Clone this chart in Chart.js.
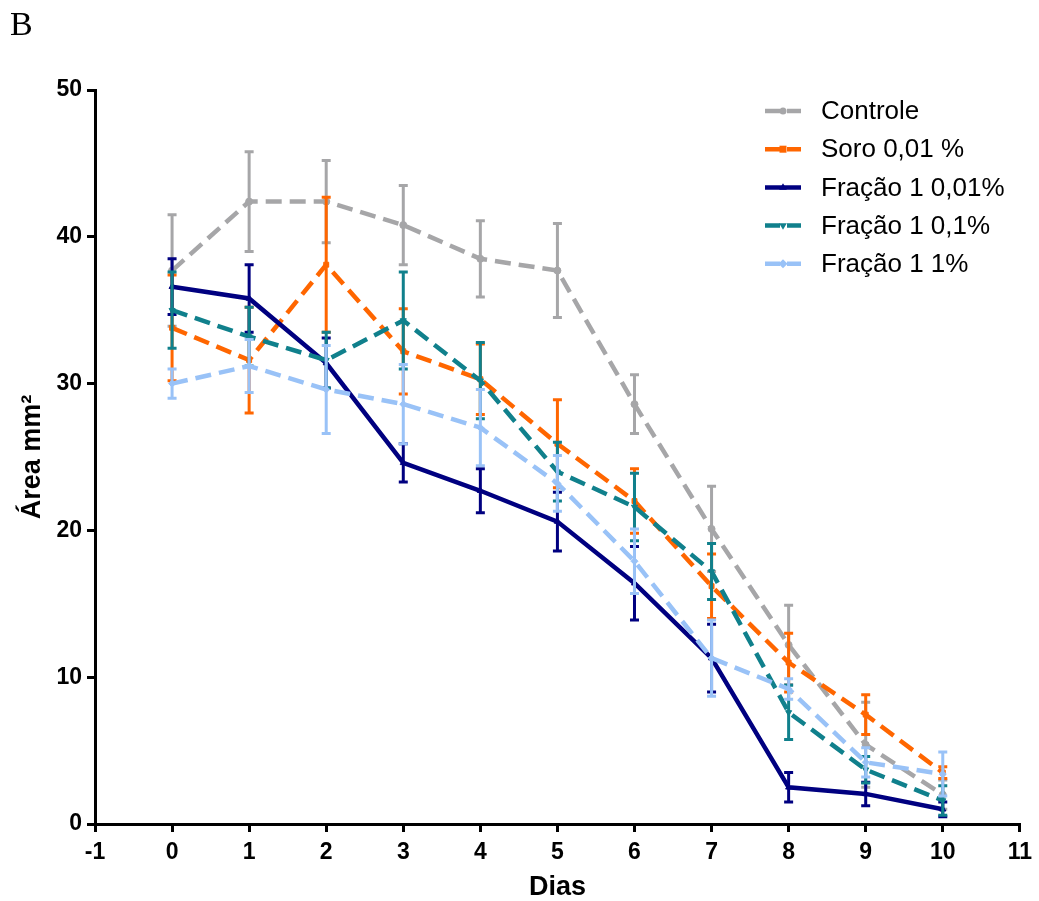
<!DOCTYPE html>
<html>
<head>
<meta charset="utf-8">
<script src="https://cdn.jsdelivr.net/npm/chart.js@4/dist/chart.umd.min.js"></script>
<style>
  body { margin: 0; background: #fff; }
  #caixa { width: 1039px; height: 901px; position: relative; }
</style>
</head>
<body>
<div id="caixa"><canvas id="grafico"></canvas></div>
<script>
// dados (média e erro por dia)
const dias = [0, 1, 2, 3, 4, 5, 6, 7, 8, 9, 10];
const nomes = ['Controle', 'Soro 0,01 %', 'Fração 1 0,01%', 'Fração 1 0,1%', 'Fração 1 1%'];

const controle = [37.7, 42.4, 42.4, 40.8, 38.5, 37.7, 28.6, 20.1, 12.2, 5.4, 2.0];
const controleErr = [3.8, 3.4, 2.8, 2.7, 2.6, 3.2, 2.0, 2.9, 2.7, 2.9, 1.0];

const soro = [33.8, 31.6, 38.1, 32.2, 30.3, 25.9, 22.0, 16.2, 11.0, 7.45, 3.5];
const soroErr = [3.6, 3.6, 4.6, 2.9, 2.4, 3.0, 2.2, 2.2, 2.0, 1.35, 0.4];

const fracao001 = [36.6, 35.8, 31.4, 24.6, 22.7, 20.6, 16.4, 11.3, 2.5, 2.05, 1.0];
const fracao001Err = [1.9, 2.3, 1.7, 1.3, 1.5, 2.0, 2.5, 2.3, 1.0, 0.8, 0.5];

const fracao01 = [35.0, 33.2, 31.6, 34.3, 30.2, 24.0, 21.6, 17.2, 7.6, 3.7, 1.6];
const fracao01Err = [2.6, 2.0, 1.9, 3.3, 2.6, 2.0, 2.3, 1.9, 1.85, 0.9, 1.0];

const fracao1 = [30.0, 31.2, 29.6, 28.6, 27.0, 23.2, 17.9, 11.3, 9.2, 4.2, 3.4];
const fracao1Err = [1.0, 1.8, 3.0, 2.7, 2.6, 1.9, 2.2, 2.6, 0.7, 1.0, 1.5];

const series = [controle, soro, fracao001, fracao01, fracao1];
const erros = [controleErr, soroErr, fracao001Err, fracao01Err, fracao1Err];
const cores = ['#a6a6a8', '#ff6600', '#000080', '#10808c', '#99c2f7'];
const tracos = [[16, 8], [16, 8], [], [16, 8], [16, 8]];
const marcas = ['circle', 'rect', 'triangle', 'triangle', 'rectRot'];
const rotacoes = [0, 0, 0, 180, 0];

const fonte = 'Liberation Sans, Arial, sans-serif';

const datasets = series.map((valores, i) => ({
    label: nomes[i],
    data: dias.map((d, j) => ({ x: d, y: valores[j] })),
    erro: erros[i],
    borderColor: cores[i],
    backgroundColor: cores[i],
    borderWidth: 4.5,
    borderDash: tracos[i],
    pointStyle: marcas[i],
    pointRotation: rotacoes[i],
    pointRadius: 3.5,
    pointBorderWidth: 1,
    tension: 0,
    order: series.length - i
}));

// barras de erro, desenhadas logo depois de cada série
const barrasErro = {
    id: 'barrasErro',
    afterDatasetDraw(chart, args) {
        const ds = chart.data.datasets[args.index];
        const sx = chart.scales.x, sy = chart.scales.y;
        const ctx = chart.ctx;
        ctx.save();
        ctx.strokeStyle = ds.borderColor;
        ctx.lineWidth = 3;
        ctx.setLineDash([]);
        ds.data.forEach((p, j) => {
            const e = ds.erro[j];
            const x = sx.getPixelForValue(p.x);
            const yt = sy.getPixelForValue(p.y + e);
            const yb = sy.getPixelForValue(Math.max(0, p.y - e));
            ctx.beginPath();
            ctx.moveTo(x, yt); ctx.lineTo(x, yb);
            ctx.moveTo(x - 4.5, yt); ctx.lineTo(x + 4.5, yt);
            ctx.moveTo(x - 4.5, yb); ctx.lineTo(x + 4.5, yb);
            ctx.stroke();
        });
        ctx.restore();
    }
};

function desenhaMarca(ctx, tipo, rot, x, y, r) {
    ctx.save();
    ctx.translate(x, y);
    ctx.rotate(rot * Math.PI / 180);
    ctx.beginPath();
    if (tipo === 'circle') {
        ctx.arc(0, 0, r, 0, Math.PI * 2);
    } else if (tipo === 'rect') {
        ctx.rect(-r, -r, 2 * r, 2 * r);
    } else if (tipo === 'rectRot') {
        ctx.moveTo(0, -r * 1.3); ctx.lineTo(r * 1.3, 0); ctx.lineTo(0, r * 1.3); ctx.lineTo(-r * 1.3, 0);
    } else {
        ctx.moveTo(0, -r * 1.2); ctx.lineTo(r * 1.1, r * 0.7); ctx.lineTo(-r * 1.1, r * 0.7);
    }
    ctx.closePath();
    ctx.fill();
    ctx.restore();
}

// legenda no canto superior direito + letra do painel
const legendaPainel = {
    id: 'legendaPainel',
    afterDraw(chart) {
        const ctx = chart.ctx;
        ctx.save();
        chart.data.datasets.forEach((ds, i) => {
            const y = 111 + i * 38.2;
            ctx.strokeStyle = ds.borderColor;
            ctx.fillStyle = ds.borderColor;
            ctx.lineWidth = 4.5;
            ctx.setLineDash(ds.borderDash.length ? [15, 7] : []);
            ctx.beginPath();
            ctx.moveTo(765, y); ctx.lineTo(801, y);
            ctx.stroke();
            ctx.setLineDash([]);
            desenhaMarca(ctx, ds.pointStyle, ds.pointRotation, 783, y, 3.5);
            ctx.fillStyle = '#000';
            ctx.font = '26px ' + fonte;
            ctx.textBaseline = 'middle';
            ctx.textAlign = 'left';
            ctx.fillText(ds.label, 821, y + 1);
        });
        ctx.fillStyle = '#000';
        ctx.font = '34px "Liberation Serif", "Times New Roman", serif';
        ctx.textBaseline = 'alphabetic';
        ctx.fillText('B', 10, 35);
        ctx.restore();
    }
};

new Chart(document.getElementById('grafico'), {
    type: 'line',
    data: { datasets: datasets },
    options: {
        responsive: true,
        maintainAspectRatio: false,
        animation: false,
        layout: { padding: { top: 90, right: 13, bottom: 0, left: 0 } },
        plugins: {
            legend: { display: false },
            tooltip: { enabled: false }
        },
        scales: {
            x: {
                type: 'linear',
                min: -1,
                max: 11,
                afterFit: (scale) => { scale.height = 77; },
                ticks: { stepSize: 1, color: '#000', padding: 7, font: { family: fonte, size: 23, weight: 'bold' } },
                grid: { drawOnChartArea: false, drawTicks: true, tickLength: 8, color: '#000', lineWidth: 3 },
                border: { color: '#000', width: 3 },
                title: { display: true, text: 'Dias', color: '#000', padding: { top: 0, bottom: 0 }, font: { family: fonte, size: 27, weight: 'bold', lineHeight: 1 } }
            },
            y: {
                min: 0,
                max: 50,
                afterFit: (scale) => { scale.width = 95; },
                ticks: { stepSize: 10, color: '#000', padding: 5, font: { family: fonte, size: 23, weight: 'bold' } },
                grid: { drawOnChartArea: false, drawTicks: true, tickLength: 8, color: '#000', lineWidth: 3 },
                border: { color: '#000', width: 3 },
                title: { display: true, text: 'Área mm²', color: '#000', padding: { top: 19, bottom: 0 }, font: { family: fonte, size: 27, weight: 'bold', lineHeight: 1 } }
            }
        }
    },
    plugins: [barrasErro, legendaPainel]
});
</script>
</body>
</html>
